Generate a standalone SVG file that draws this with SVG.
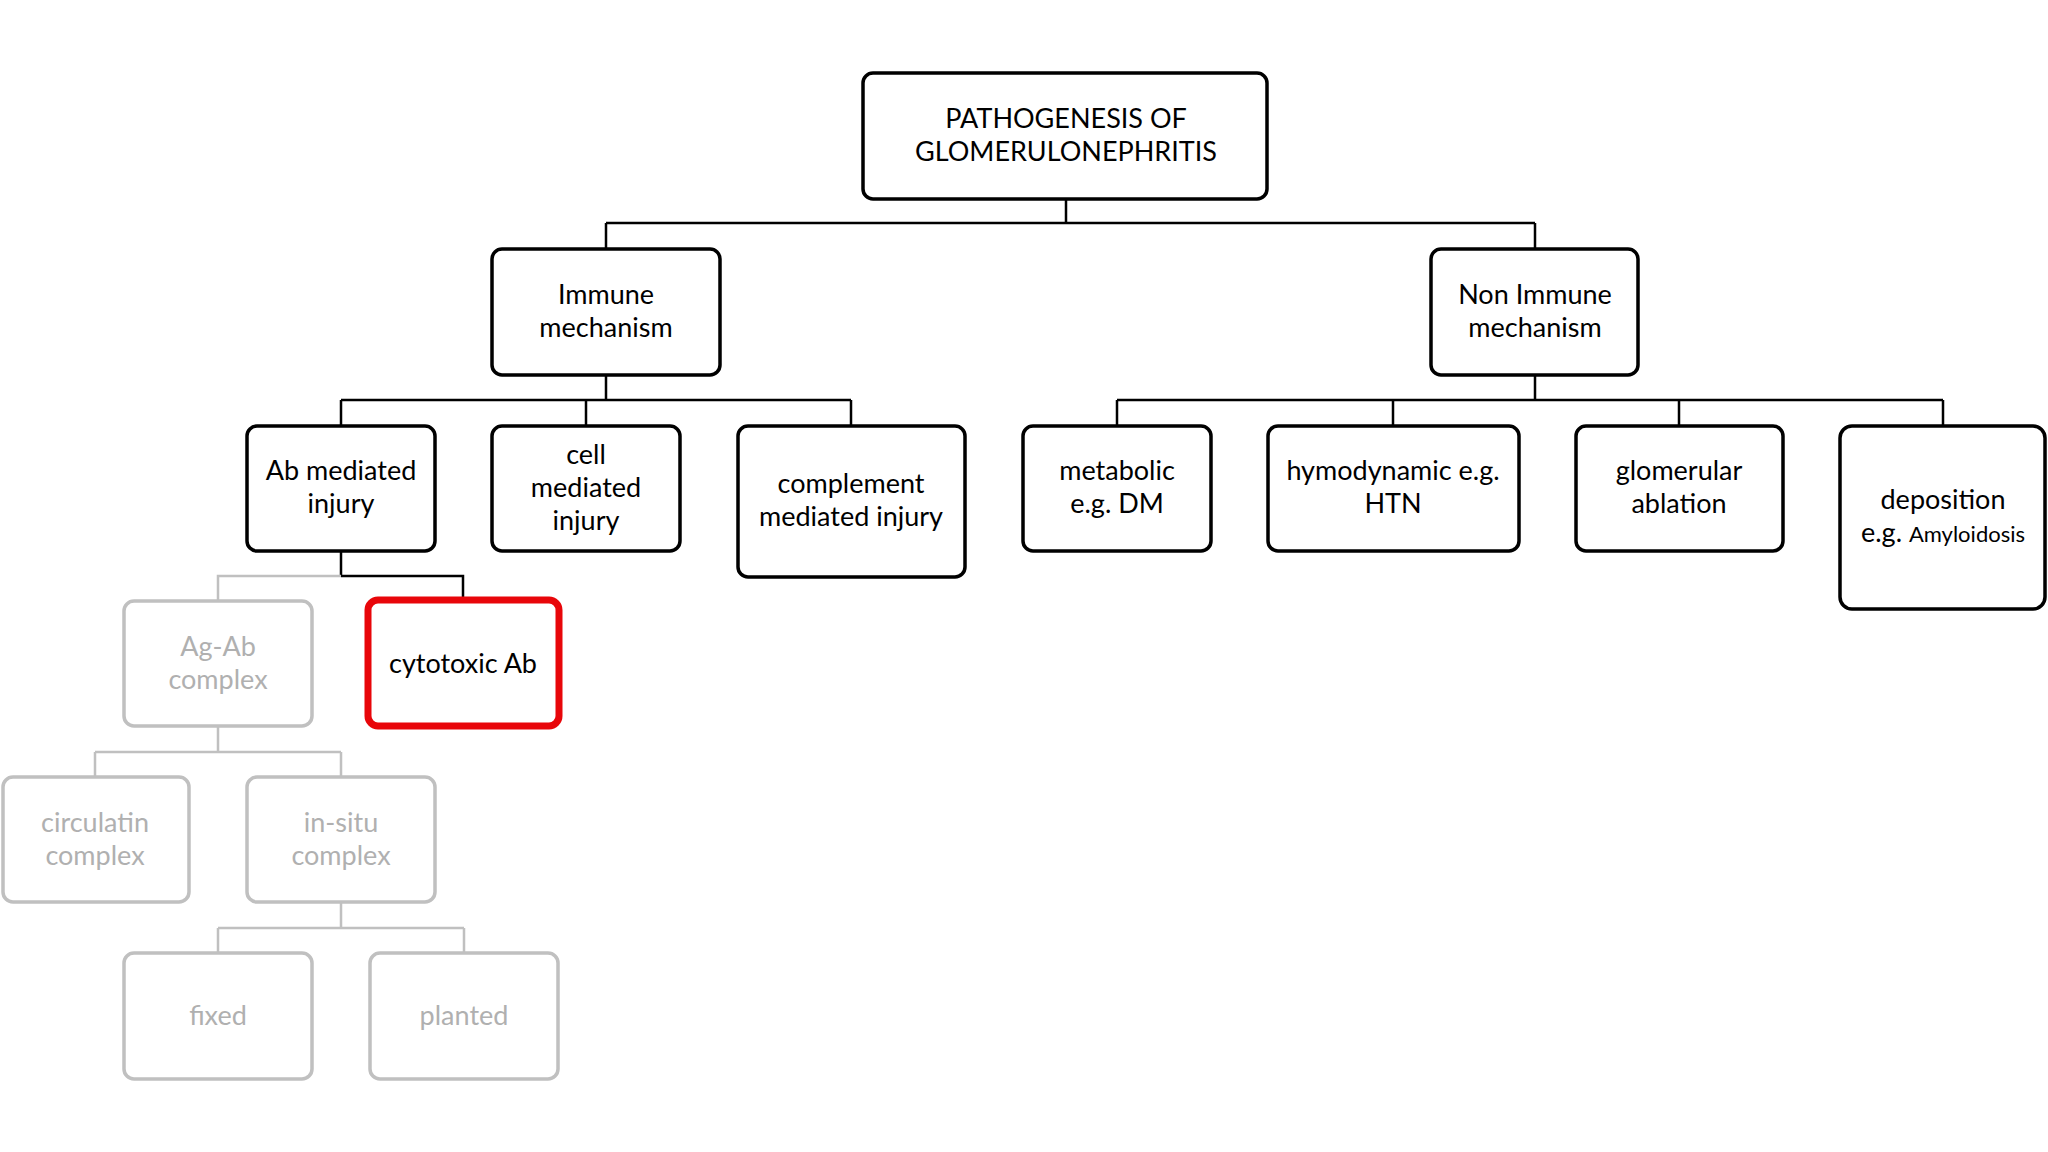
<svg xmlns="http://www.w3.org/2000/svg" width="2048" height="1152" viewBox="0 0 2048 1152">
<style>
.b rect{fill:#fff;stroke:#000;stroke-width:3.5}
.g rect{fill:#fff;stroke:#c0c0c0;stroke-width:3.5}
text{font-family:Lato,"Open Sans",sans-serif;font-size:27px;text-anchor:middle;fill:#000}
.g text{fill:#b0b0b0}
.c path{fill:none;stroke:#000;stroke-width:2.5}
.cg path{fill:none;stroke:#c0c0c0;stroke-width:2.5}
</style>
<rect width="2048" height="1152" fill="#fff"/>
<g class="c">
<path d="M1066 199V223M606 223H1535M606 223V249M1535 223V249"/>
<path d="M606 375V400M341 400H851M341 400V426M586 400V426M851 400V426"/>
<path d="M1535 375V400M1117 400H1943M1117 400V426M1393 400V426M1679 400V426M1943 400V426"/>
<path d="M341 551V576M341 576H463V600"/>
</g>
<g class="cg">
<path d="M341 576H218V601"/>
<path d="M218 726V752M95 752H341M95 752V777M341 752V777"/>
<path d="M341 902V928M218 928H464M218 928V953M464 928V953"/>
</g>
<g id="root" class="b"><rect x="863" y="73" width="404" height="126" rx="10"/><text x="1066" y="128">PATHOGENESIS OF</text><text x="1066" y="161">GLOMERULONEPHRITIS</text></g>
<g id="immune" class="b"><rect x="492" y="249" width="228" height="126" rx="10"/><text x="606" y="304">Immune</text><text x="606" y="337">mechanism</text></g>
<g id="nonimmune" class="b"><rect x="1431" y="249" width="207" height="126" rx="10"/><text x="1535" y="304">Non Immune</text><text x="1535" y="337">mechanism</text></g>
<g id="ab" class="b"><rect x="247" y="426" width="188" height="125" rx="10"/><text x="341" y="480">Ab mediated</text><text x="341" y="513">injury</text></g>
<g id="cell" class="b"><rect x="492" y="426" width="188" height="125" rx="10"/><text x="586" y="464">cell</text><text x="586" y="497">mediated</text><text x="586" y="530">injury</text></g>
<g id="complement" class="b"><rect x="738" y="426" width="227" height="151" rx="10"/><text x="851" y="493">complement</text><text x="851" y="526">mediated injury</text></g>
<g id="metabolic" class="b"><rect x="1023" y="426" width="188" height="125" rx="10"/><text x="1117" y="480">metabolic</text><text x="1117" y="513">e.g. DM</text></g>
<g id="hymodynamic" class="b"><rect x="1268" y="426" width="251" height="125" rx="10"/><text x="1393" y="480">hymodynamic e.g.</text><text x="1393" y="513">HTN</text></g>
<g id="glomerular" class="b"><rect x="1576" y="426" width="207" height="125" rx="10"/><text x="1679" y="480">glomerular</text><text x="1679" y="513">ablation</text></g>
<g id="deposition" class="b"><rect x="1840" y="426" width="205" height="183" rx="12"/><text x="1943" y="509">deposition</text><text x="1943" y="542"><tspan>e.g. </tspan><tspan font-size="22">Amyloidosis</tspan></text></g>
<g id="agab" class="g"><rect x="124" y="601" width="188" height="125" rx="10"/><text x="218" y="656">Ag-Ab</text><text x="218" y="689">complex</text></g>
<g id="cytotoxic" class="b"><rect x="368" y="600" width="191" height="126" rx="10" style="stroke:#e8060a;stroke-width:7"/><text x="463" y="673">cytotoxic Ab</text></g>
<g id="circulatin" class="g"><rect x="3" y="777" width="186" height="125" rx="10"/><text x="95" y="832">circulatin</text><text x="95" y="865">complex</text></g>
<g id="insitu" class="g"><rect x="247" y="777" width="188" height="125" rx="10"/><text x="341" y="832">in-situ</text><text x="341" y="865">complex</text></g>
<g id="fixed" class="g"><rect x="124" y="953" width="188" height="126" rx="10"/><text x="218" y="1025">fixed</text></g>
<g id="planted" class="g"><rect x="370" y="953" width="188" height="126" rx="10"/><text x="464" y="1025">planted</text></g>
</svg>
